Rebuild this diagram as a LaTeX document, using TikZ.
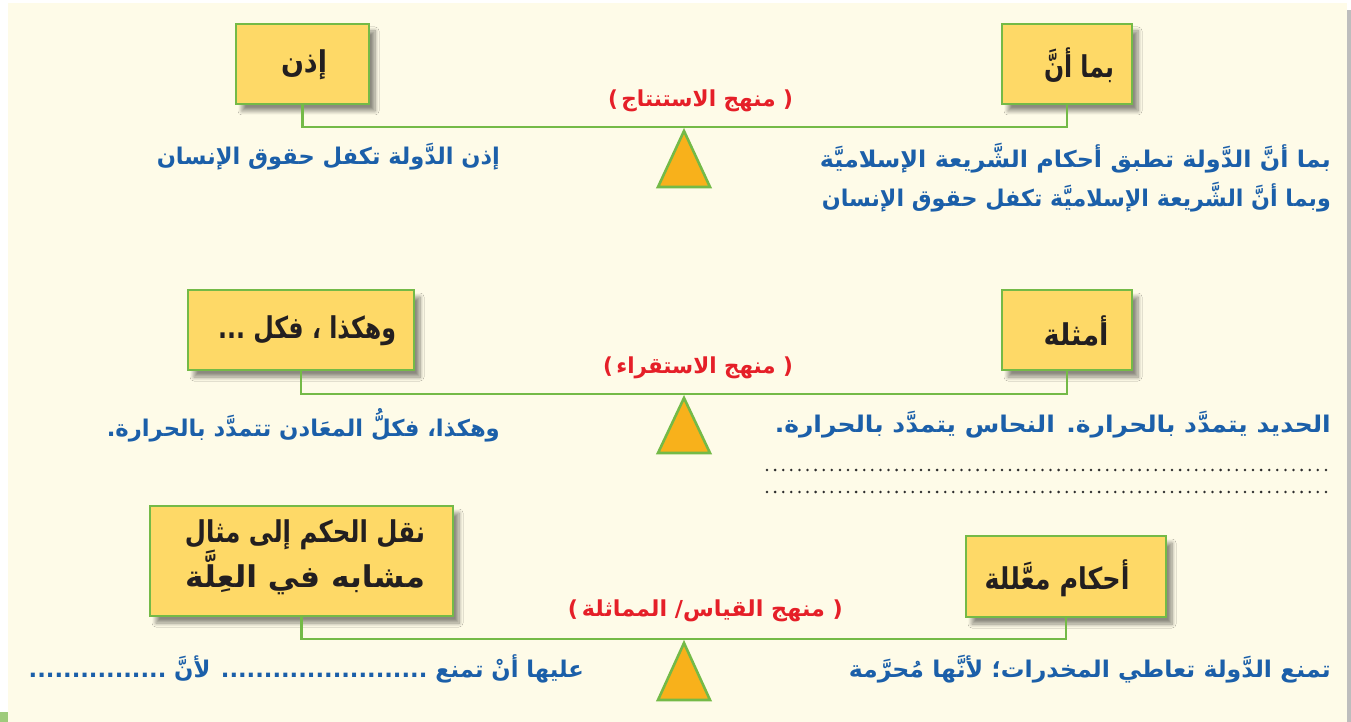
\documentclass[tikz,border=0pt]{standalone}
\usepackage{fontspec}
\usepackage{graphicx}
\usetikzlibrary{shadows.blur}
\TeXXeTstate=1
\newfontfamily\arabicfont[Script=Arabic]{DejaVu Sans}
\definecolor{cream}{HTML}{FEFBE8}
\definecolor{boxfill}{HTML}{FED967}
\definecolor{lgreen}{HTML}{74BA47}
\definecolor{torange}{HTML}{F8B11B}
\definecolor{tblue}{HTML}{1B5FA9}
\definecolor{tred}{HTML}{E51F28}
\definecolor{tblack}{HTML}{231F20}
\definecolor{patchgreen}{HTML}{9ECB7C}
\definecolor{edgegray}{HTML}{BDBDBD}
\definecolor{dotgray}{HTML}{2E2E2E}
\newcommand{\ar}[1]{\beginR #1\endR}
\newcommand{\fitw}[2]{\resizebox{#1}{\height}{#2}}
\tikzset{
  boxnode/.style={draw=lgreen, line width=2.4pt, fill=boxfill, inner sep=0pt,
    blur shadow={shadow xshift=6pt, shadow yshift=-7pt, shadow blur steps=8,
      shadow blur radius=4pt, shadow opacity=45}},
  boxtxt/.style={text=tblack, inner sep=0pt, font=\arabicfont\bfseries\fontsize{30}{44}\selectfont},
  bluetxt/.style={text=tblue, inner sep=0pt, anchor=east, font=\arabicfont\bfseries\fontsize{23}{27}\selectfont},
  redtxt/.style={text=tred, inner sep=0pt, font=\arabicfont\bfseries\fontsize{22}{26}\selectfont},
  conn/.style={draw=lgreen, line width=2.4pt},
  tri/.style={draw=lgreen, line width=2.6pt, fill=torange, line join=miter},
  dots/.style={draw=dotgray, line width=2.8pt, line cap=round, dash pattern=on 0pt off 8.1pt}
}
\begin{document}
\begin{tikzpicture}[x=1pt,y=-1pt]
\useasboundingbox (0,0) rectangle (1351,722);
% background
\fill[white] (0,0) rectangle (1351,722);
\fill[cream] (8,3) rectangle (1347,722);
\fill[edgegray] (1347,10) rectangle (1351,722);
\fill[patchgreen] (0,712) rectangle (8,722);

% ---------- section 1 ----------
\node[boxnode, minimum width=133pt, minimum height=80pt] (b1L) at (302.5,64) {};
\node[boxnode, minimum width=130pt, minimum height=80pt] (b1R) at (1067,64) {};
\node[boxtxt] (b1Lt) at (304,65) {\fitw{46pt}{\ar{إذن}}};
\node[boxtxt] (b1Rt) at (1079,65) {\fitw{70pt}{\ar{بما أنَّ}}};
\coordinate (j1) at (684,127);
\draw[tri] (684,131) -- (710,187) -- (658,187) -- cycle;
\draw[conn] (b1L.south) |- (j1) -| (b1R.south);
\node[redtxt] (r1) at (700.5,101) {\fitw{185pt}{)\,\ar{منهج الاستنتاج}\ (}};
\node[bluetxt] (t1L) at (500,157) {\fitw{343pt}{\ar{إذن الدَّولة  تكفل حقوق الإنسان}}};
\node[bluetxt] (t1Ra) at (1331,158) {\fitw{511pt}{\ar{بما أنَّ الدَّولة  تطبق أحكام الشَّريعة الإسلاميَّة}}};
\node[bluetxt] (t1Rb) at (1331,197) {\fitw{509pt}{\ar{وبما أنَّ الشَّريعة الإسلاميَّة تكفل حقوق الإنسان}}};

% ---------- section 2 ----------
\node[boxnode, minimum width=226pt, minimum height=80pt] (b2L) at (301,330) {};
\node[boxnode, minimum width=130pt, minimum height=80pt] (b2R) at (1067,330) {};
\node[boxtxt] (b2Lt) at (307,331) {\fitw{178pt}{\ar{وهكذا ، فكل ...}}};
\node[boxtxt] (b2Rt) at (1076,331) {\fitw{65pt}{\ar{أمثلة}}};
\coordinate (j2) at (684,394);
\draw[tri] (684,398) -- (710,453) -- (658,453) -- cycle;
\draw[conn] (b2L.south) |- (j2) -| (b2R.south);
\node[redtxt] (r2) at (698,368) {\fitw{190pt}{)\,\ar{منهج الاستقراء}\ (}};
\node[bluetxt] (t2L) at (500,425) {\fitw{393pt}{\ar{وهكذا، فكلُّ المعَادن تتمدَّد بالحرارة.}}};
\node[bluetxt] (t2R) at (1331,425) {\fitw{556pt}{\ar{الحديد يتمدَّد بالحرارة. النحاس يتمدَّد بالحرارة.}}};
\coordinate (d1a) at (767,470);
\coordinate (d1b) at (1333,470);
\coordinate (d2a) at (767,492);
\coordinate (d2b) at (1333,492);
\draw[dots] (d1a) -- (d1b);
\draw[dots] (d2a) -- (d2b);

% ---------- section 3 ----------
\node[boxnode, minimum width=303pt, minimum height=110pt] (b3L) at (301.5,561) {};
\node[boxnode, minimum width=200pt, minimum height=81pt] (b3R) at (1066,576.5) {};
\node[boxtxt, align=right] (b3Lt) at (305,557) {\fitw{240pt}{\ar{نقل الحكم إلى مثال}}\\[0pt]\fitw{240pt}{\ar{مشابه في العِلَّة}}};
\node[boxtxt] (b3Rt) at (1057,578) {\fitw{145pt}{\ar{أحكام معَّللة}}};
\coordinate (j3) at (684,639);
\draw[tri] (684,643) -- (710,700) -- (658,700) -- cycle;
\draw[conn] (b3L.south) |- (j3) -| (b3R.south);
\node[redtxt] (r3) at (705.5,611) {\fitw{275pt}{)\,\ar{منهج القياس/ المماثلة}\ (}};
\node[bluetxt] (t3R) at (1331,669) {\fitw{482pt}{\ar{تمنع الدَّولة تعاطي المخدرات؛ لأنَّها مُحرَّمة}}};
\node[bluetxt] (t3L) at (584,669) {\fitw{555pt}{\ar{عليها أنْ تمنع ........................ لأنَّ ................}}};
\end{tikzpicture}
\end{document}
